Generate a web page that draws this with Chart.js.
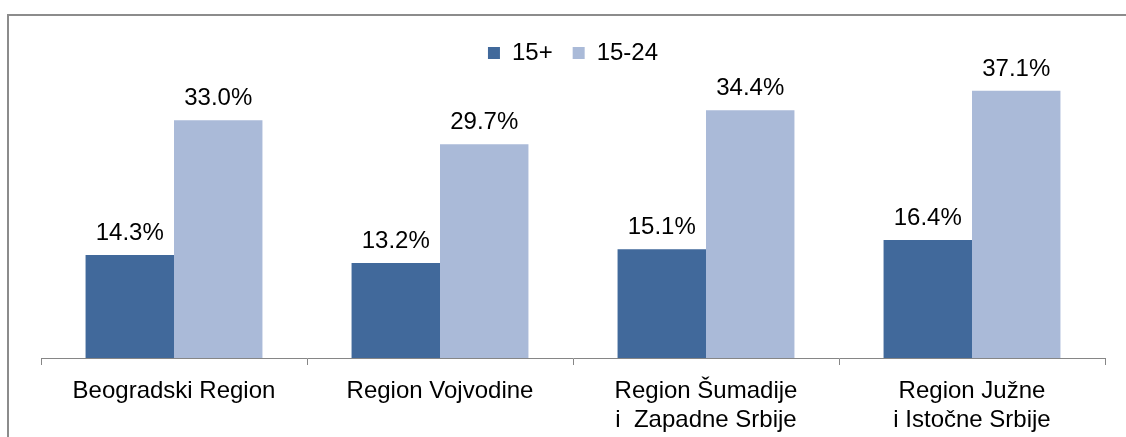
<!DOCTYPE html>
<html>
<head>
<meta charset="utf-8">
<script src="https://cdn.jsdelivr.net/npm/chart.js"></script>
<style>
  html, body { margin: 0; padding: 0; background: #fff; overflow: hidden; }
  #frame { position: absolute; left: 7px; top: 14px; width: 1300px; height: 600px;
           border-top: 2px solid #8c8c8c; border-left: 2px solid #8c8c8c; }
  #unemp { position: absolute; left: 0; top: 0; }
</style>
</head>
<body>
<div id="frame"></div>
<canvas id="unemp" width="1126" height="437"></canvas>
<script>
  const regions = [
    'Beogradski Region',
    'Region Vojvodine',
    ['Region Šumadije', 'i  Zapadne Srbije'],
    ['Region Južne', 'i Istočne Srbije']
  ];
  const age15plus = [14.3, 13.2, 15.1, 16.4];
  const age15to24 = [33.0, 29.7, 34.4, 37.1];

  const font = "'Liberation Sans', Arial, sans-serif";

  // values on top of the bars
  const barLabels = {
    id: 'barLabels',
    afterDatasetsDraw(chart) {
      const c = chart.ctx;
      c.save();
      c.font = '24px ' + font;
      c.fillStyle = '#000';
      c.textAlign = 'center';
      c.textBaseline = 'alphabetic';
      chart.data.datasets.forEach((ds, i) => {
        chart.getDatasetMeta(i).data.forEach((bar, j) => {
          c.fillText(ds.data[j].toFixed(1) + '%', bar.x, bar.y - 15);
        });
      });
      c.restore();
    }
  };

  const ctx = document.getElementById('unemp');

  new Chart(ctx, {
    type: 'bar',
    data: {
      labels: regions,
      datasets: [{
        label: '15+',
        data: age15plus,
        backgroundColor: '#41699b',
        categoryPercentage: 0.665,
        barPercentage: 1
      }, {
        label: '15-24',
        data: age15to24,
        backgroundColor: '#aabad8',
        categoryPercentage: 0.665,
        barPercentage: 1
      }]
    },
    options: {
      responsive: false,
      animation: false,
      layout: { padding: { left: 41, right: 21, top: 21, bottom: 0 } },
      plugins: {
        tooltip: { enabled: false },
        legend: {
          position: 'top',
          labels: {
            boxWidth: 12,
            boxHeight: 12,
            padding: 20,
            color: '#000',
            font: { size: 24, family: font }
          }
        }
      },
      scales: {
        x: {
          offset: true,
          border: { color: '#868686', width: 1 },
          grid: { offset: true, drawOnChartArea: false, tickLength: 7, color: '#868686' },
          ticks: {
            color: '#000',
            padding: 12,
            maxRotation: 0,
            font: { size: 24, family: font, lineHeight: 1.2 }
          },
          afterFit(scale) {
            scale.height = 437 - 358;
          }
        },
        y: {
          display: false,
          min: 0,
          max: 39.3
        }
      }
    },
    plugins: [barLabels]
  });
</script>
</body>
</html>
